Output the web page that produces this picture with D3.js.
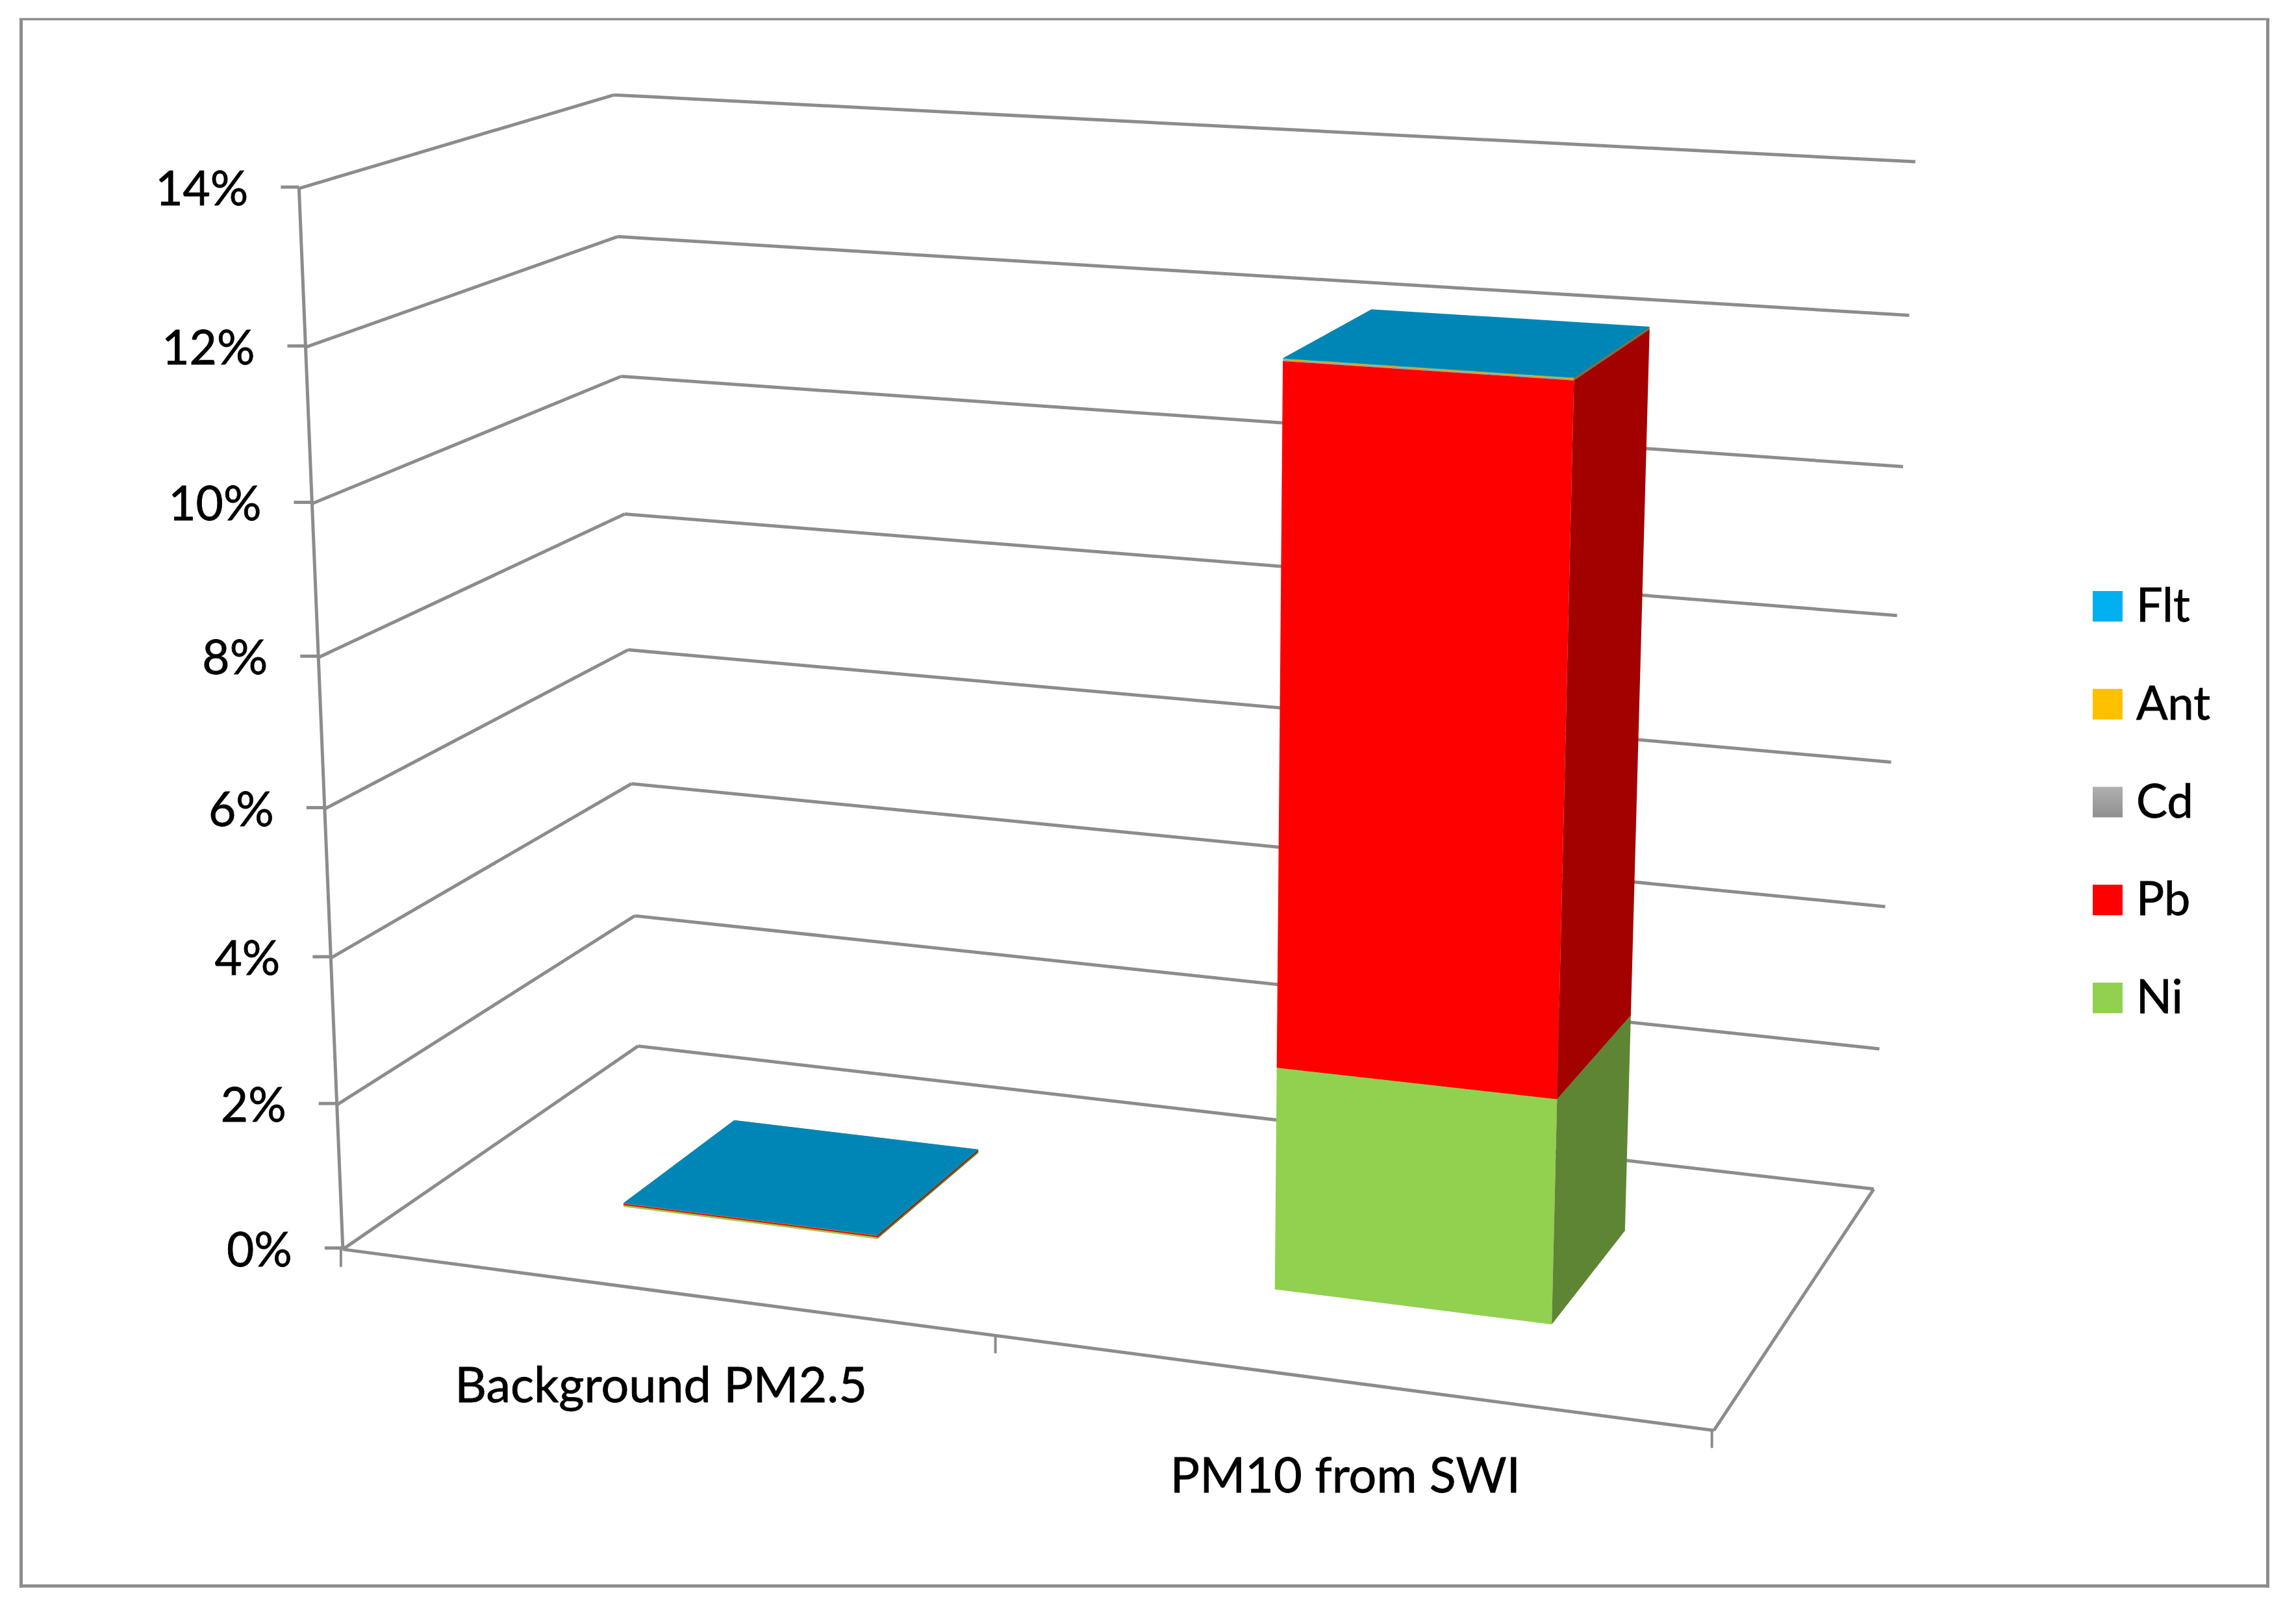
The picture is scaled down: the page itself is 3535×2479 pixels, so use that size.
<!DOCTYPE html>
<html>
<head>
<meta charset="utf-8">
<script src="https://cdn.jsdelivr.net/npm/d3@7"></script>
<style>
    html, body { margin: 0; padding: 0; background: #fff; }
    svg { display: block; }
    text { font-family: Lato, "Open Sans", sans-serif; fill: #000; stroke: #000; stroke-width: 0.8px; }
</style>
</head>
<body>
<div class="chart"></div>
<script>
// 图表数据
const categories = ['Background PM2.5', 'PM10 from SWI'];
const seriesNames = ['Ni', 'Pb', 'Cd', 'Ant', 'Flt'];
const niValues = [0.025, 3.0];
const pbValues = [0.02, 9.11];
const cdValues = [0.002, 0.015];
const antValues = [0.002, 0.012];
const fltValues = [0.003, 0.008];
const valueTicks = [0, 2, 4, 6, 8, 10, 12, 14];
const legendOrder = ['Flt', 'Ant', 'Cd', 'Pb', 'Ni'];

const seriesColors = { Ni: '#92d050', Pb: '#ff0000', Cd: '#a5a5a5', Ant: '#ffc000', Flt: '#00b0f0' };
const lineColor = '#8c8c8c';

const width = 3535, height = 2479;

// 立体框的标定点：[左右, 前后, 数值, 屏幕x, 屏幕y]
const frameAnchors = [
    [0, 0, 0, 526.5, 1922], [0, 0, 2, 517.5, 1702], [0, 0, 12, 470, 536], [0, 0, 14, 461, 291],
    [0, 1, 0, 984, 1611], [0, 1, 10, 958, 578], [0, 1, 12, 952, 364], [0, 1, 14, 943, 147],
    [1, 1, 0, 2883, 1832.6], [1, 1, 2, 2893, 1616], [1, 1, 12, 2939, 485], [1, 1, 14, 2948, 249],
    [1, 0, 0, 2638, 2201.5],
    // 画面中部再补几个点，让拟合在柱子附近更准
    [0.65, 0.3, 0, 1961.6, 1984], [0.85, 0.3, 0, 2391, 2038], [0.85, 0.7, 0, 2504, 1896.7],
    [0.65, 0.3, 12.145, 1976, 553], [0.85, 0.3, 12.145, 2426, 583],
    [0.85, 0.7, 12.145, 2540.5, 501], [0.65, 0.7, 12.145, 2110, 474]
];

// 比例尺
const xBand = d3.scaleBand().domain(categories).range([0, 1]).paddingInner(0.6).paddingOuter(0.3);
const depthBand = d3.scaleBand().domain(['row']).range([0, 1]).paddingInner(0.6).paddingOuter(0.3);
const yScale = d3.scaleLinear().domain([0, 14]).range([0, 1]);

// 最小二乘求透视矩阵
function solveLinear(A, b) {
    const n = b.length;
    for (let i = 0; i < n; i++) {
        let p = i;
        for (let r = i + 1; r < n; r++) {
            if (Math.abs(A[r][i]) > Math.abs(A[p][i])) p = r;
        }
        [A[i], A[p]] = [A[p], A[i]];
        [b[i], b[p]] = [b[p], b[i]];
        for (let r = i + 1; r < n; r++) {
            const f = A[r][i] / A[i][i];
            for (let c = i; c < n; c++) A[r][c] -= f * A[i][c];
            b[r] -= f * b[i];
        }
    }
    const out = new Array(n).fill(0);
    for (let i = n - 1; i >= 0; i--) {
        let s = b[i];
        for (let c = i + 1; c < n; c++) s -= A[i][c] * out[c];
        out[i] = s / A[i][i];
    }
    return out;
}

function fitCamera(anchors) {
    const rows = [], rhs = [];
    anchors.forEach(function(d) {
        const u = d[0], w = d[1], t = yScale(d[2]), X = d[3], Y = d[4];
        rows.push([u, w, t, 1, 0, 0, 0, 0, -u * X, -w * X, -t * X]);
        rhs.push(X);
        rows.push([0, 0, 0, 0, u, w, t, 1, -u * Y, -w * Y, -t * Y]);
        rhs.push(Y);
    });
    const N = d3.range(11).map(i => d3.range(11).map(j => d3.sum(rows, r => r[i] * r[j])));
    const v = d3.range(11).map(i => d3.sum(rows, (r, k) => r[i] * rhs[k]));
    return solveLinear(N, v);
}

const cam = fitCamera(frameAnchors);

// u: 左右 0-1, w: 前后 0-1, value: 百分比
function project(u, w, value) {
    const t = yScale(value);
    const q = cam[8] * u + cam[9] * w + cam[10] * t + 1;
    return [
        (cam[0] * u + cam[1] * w + cam[2] * t + cam[3]) / q,
        (cam[4] * u + cam[5] * w + cam[6] * t + cam[7]) / q
    ];
}

const svg = d3.select('.chart').append('svg').attr('width', width).attr('height', height);
const polygon = d3.line().curve(d3.curveLinearClosed);

function drawLine(p1, p2, strokeWidth) {
    svg.append('line')
        .attr('x1', p1[0]).attr('y1', p1[1])
        .attr('x2', p2[0]).attr('y2', p2[1])
        .attr('stroke', lineColor)
        .attr('stroke-width', strokeWidth || 5);
}

// 外框线，上边比其他三边细
drawLine([30, 29.5], [3494, 29.5], 3.5);
drawLine([30, 2442], [3494, 2442], 5);
drawLine([32.5, 28], [32.5, 2444.5], 5);
drawLine([3491.5, 28], [3491.5, 2444.5], 5);

// 网格线：左墙与后墙
valueTicks.forEach(function(v) {
    drawLine(project(0, 0, v), project(0, 1, v));
    drawLine(project(0, 1, v), project(1, 1, v));
});
// 底面
drawLine(project(0, 0, 0), project(1, 0, 0));
drawLine(project(1, 0, 0), project(1, 1, 0));
// 数值轴
drawLine(project(0, 0, 0), project(0, 0, 14));

// 数值轴刻度和标签
const tickFormat = d => d + '%';
valueTicks.forEach(function(v) {
    const p = project(0, 0, v);
    drawLine([p[0] - 28, p[1] - 2], [p[0], p[1] - 2]);
    svg.append('text')
        .attr('x', p[0] - 78)
        .attr('y', p[1] + 26)
        .attr('text-anchor', 'end')
        .style('font-size', '73px')
        .text(tickFormat(v));
});

// 类别轴刻度和标签
[0, 0.5, 1].forEach(function(u) {
    const p = project(u, 0, 0);
    drawLine([p[0] - 3, p[1]], [p[0] - 3, p[1] + 27], 4);
});
categories.forEach(function(c) {
    const p = project(xBand(c) + xBand.bandwidth() / 2, 0, 0);
    svg.append('text')
        .attr('x', p[0] - 3)
        .attr('y', p[1] + 170)
        .attr('text-anchor', 'middle')
        .style('font-size', '75.5px')
        .text(c);
});

// 堆叠柱
const rows = categories.map(function(c, i) {
    return { category: c, Ni: niValues[i], Pb: pbValues[i], Cd: cdValues[i], Ant: antValues[i], Flt: fltValues[i] };
});
const stacked = d3.stack().keys(seriesNames)(rows);

function shade(color, k) {
    const c = d3.rgb(color);
    return d3.rgb(c.r * k, c.g * k, c.b * k).formatHex();
}

categories.forEach(function(c, i) {
    const u0 = xBand(c), u1 = u0 + xBand.bandwidth();
    const w0 = depthBand('row'), w1 = w0 + depthBand.bandwidth();
    stacked.forEach(function(layer) {
        const v0 = layer[i][0], v1 = layer[i][1];
        const color = seriesColors[layer.key];
        // 正面
        svg.append('path')
            .attr('d', polygon([project(u0, w0, v0), project(u1, w0, v0), project(u1, w0, v1), project(u0, w0, v1)]))
            .attr('fill', color);
        // 右侧面
        svg.append('path')
            .attr('d', polygon([project(u1, w0, v0), project(u1, w1, v0), project(u1, w1, v1), project(u1, w0, v1)]))
            .attr('fill', shade(color, 0.64));
        // 顶面
        svg.append('path')
            .attr('d', polygon([project(u0, w0, v1), project(u1, w0, v1), project(u1, w1, v1), project(u0, w1, v1)]))
            .attr('fill', shade(color, 0.76));
    });
});

// 图例
const legendY = d3.scalePoint().domain(legendOrder).range([933.5, 1536.5]);
const defs = svg.append('defs');
const cdGrad = defs.append('linearGradient').attr('id', 'cdGrad').attr('x1', 0).attr('y1', 0).attr('x2', 0).attr('y2', 1);
cdGrad.append('stop').attr('offset', 0).attr('stop-color', '#b0b0b0');
cdGrad.append('stop').attr('offset', 1).attr('stop-color', '#8f8f8f');

legendOrder.forEach(function(name) {
    const y = legendY(name);
    svg.append('rect')
        .attr('x', 3222).attr('y', y - 23.5)
        .attr('width', 46).attr('height', 47)
        .attr('fill', name === 'Cd' ? 'url(#cdGrad)' : seriesColors[name]);
    svg.append('text')
        .attr('x', 3289)
        .attr('y', y + 23.5)
        .style('font-size', '72px')
        .text(name);
});
</script>
</body>
</html>
